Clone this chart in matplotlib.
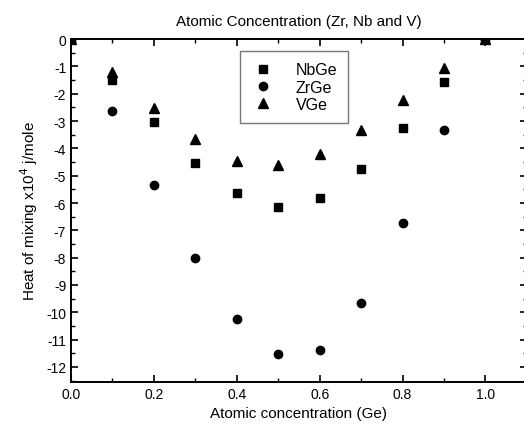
import numpy as np
import matplotlib.pyplot as plt
from matplotlib.ticker import MultipleLocator

plt.rcParams['font.family'] = ['Liberation Sans', 'DejaVu Sans']
plt.rcParams['axes.unicode_minus'] = False

# atomic concentration of Ge
ge = [0.0, 0.1, 0.2, 0.3, 0.4, 0.5, 0.6, 0.7, 0.8, 0.9, 1.0]
# heat of mixing (x10^4 j/mole)
nbge = [0.0, -1.5, -3.03, -4.52, -5.64, -6.13, -5.81, -4.76, -3.25, -1.59, 0.0]
zrge = [0.0, -2.64, -5.34, -8.0, -10.26, -11.54, -11.38, -9.67, -6.74, -3.33, 0.0]
vge = [0.0, -1.2, -2.51, -3.65, -4.46, -4.62, -4.21, -3.32, -2.23, -1.07, 0.0]

fig = plt.figure(figsize=(5.24, 4.35), dpi=100)
ax = fig.add_axes([0.1355, 0.1195, 0.870, 0.7885])

ax.plot(ge, nbge, 's', color='black', markersize=5.5, label='NbGe')
ax.plot(ge, zrge, 'o', color='black', markersize=6, label='ZrGe')
ax.plot(ge, vge, '^', color='black', markersize=6.5, label='VGe')

ax.set_xlim(0, 1.1)
ax.set_ylim(-12.55, 0)
ax.xaxis.set_minor_locator(MultipleLocator(0.1))
ax.yaxis.set_minor_locator(MultipleLocator(0.5))
ax.set_xticks(np.arange(0, 1.01, 0.2))
ax.set_xticklabels(['0.0', '0.2', '0.4', '0.6', '0.8', '1.0'])
ax.set_yticks(np.arange(-12, 0.5, 1))
ax.tick_params(which='both', direction='in', top=True, right=True, labelsize=10)
ax.tick_params(which='major', length=5, width=1.2)
ax.tick_params(which='minor', length=3, width=1.0)
for s in ax.spines.values():
    s.set_linewidth(1.4)

ax.set_xlabel('Atomic concentration (Ge)', fontsize=11)
ax.set_ylabel('Heat of mixing x10$^4$ j/mole', fontsize=11)
ax.set_title('Atomic Concentration (Zr, Nb and V)', fontsize=11, pad=10)

ax.legend(loc='upper left', bbox_to_anchor=(0.37, 0.965), fontsize=11.5,
          frameon=True, fancybox=False, edgecolor='#555555',
          handletextpad=1.3, borderpad=0.7, borderaxespad=0,
          labelspacing=0.15, handlelength=1.5)

fig.savefig('out.png', dpi=100)
